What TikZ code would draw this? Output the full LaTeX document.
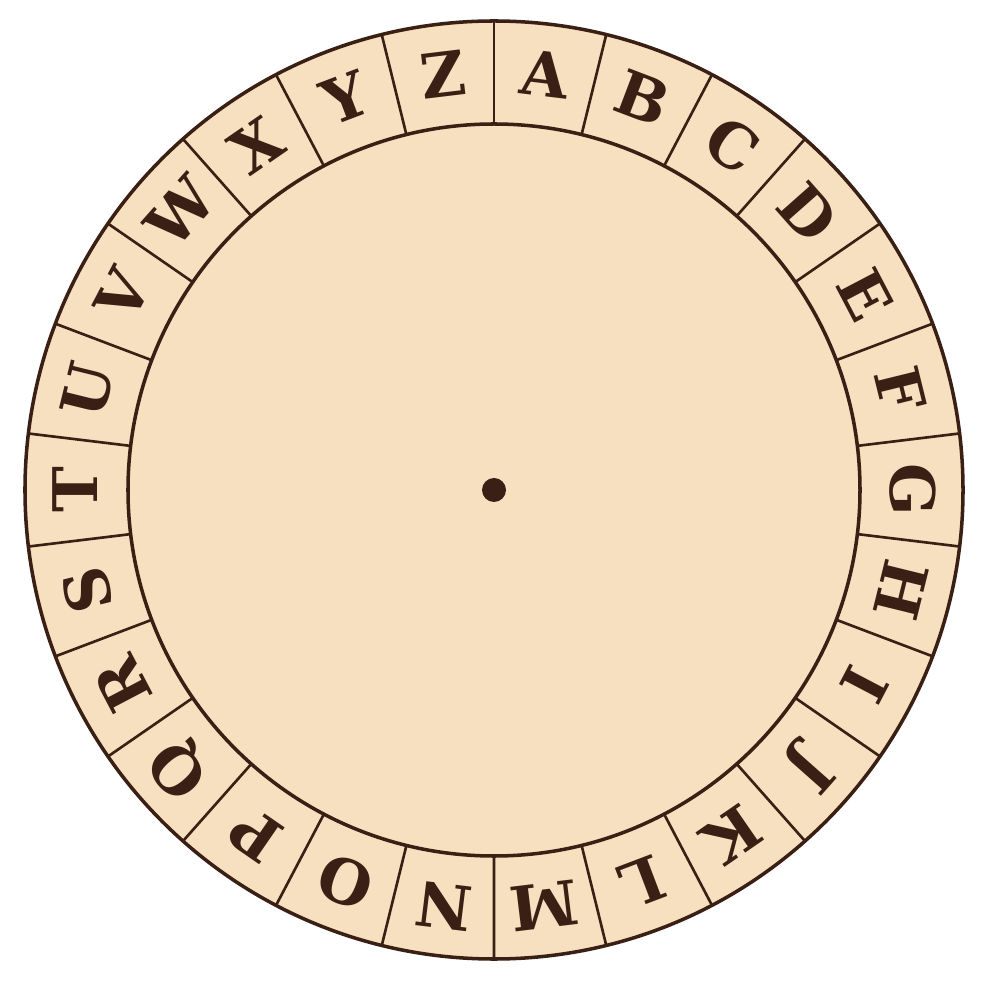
\documentclass[tikz,border=0pt]{standalone}
\usepackage{fontspec}
\newfontfamily\wheelfont{DejaVu Serif}
\begin{document}
\begin{tikzpicture}[x=0.1mm, y=0.1mm, line cap=round, line join=round]

    \definecolor{paper}{RGB}{247,224,192}
    \definecolor{ink}{RGB}{58,32,20}

    \useasboundingbox (-494,-494) rectangle (490,490);
    \fill[white] (-494,-494) rectangle (490,490);

    \tikzset{
      rim/.style={draw=ink, line width=1pt},
      divider/.style={draw=ink, line width=0.75pt},
      letter/.style={text=ink, font=\wheelfont\bfseries\fontsize{17.5}{18}\selectfont, inner sep=0pt}
    }

    % disc and ring
    \draw[rim, fill=paper] (0,0) circle (469);
    \draw[rim] (0,0) circle (366);

    \foreach \k in {0,...,25}
      \draw[divider] ({90-\k*13.846}:366) -- ({90-\k*13.846}:469);

    % alphabet
    \foreach \l [count=\i from 0] in {A,...,Z} {
      \pgfmathsetmacro\a{83.077-13.846*\i}
      \node[letter, rotate=\a-90] (l\l) at (\a:419) {\l};
    }

    \fill[ink] (0,0) circle (12) node (pin) {};

  \end{tikzpicture}
\end{document}
